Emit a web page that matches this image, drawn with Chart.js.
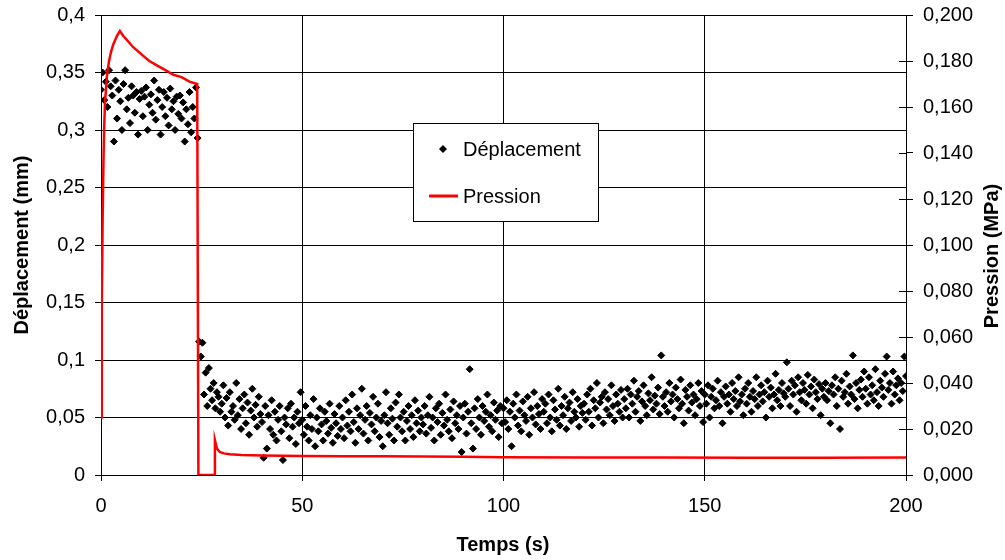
<!DOCTYPE html>
<html>
<head>
<meta charset="utf-8">
<script src="https://cdn.jsdelivr.net/npm/chart.js@4.4.1/dist/chart.umd.min.js"></script>
<style>
  html, body { margin: 0; padding: 0; background: #fff; }
  #wrap { width: 1005px; height: 560px; }
</style>
</head>
<body>
<div id="wrap"><canvas id="essaiChart" width="1005" height="560"></canvas></div>
<script>
// pas d'acquisition (s) du déplacement
const pasTemps = 0.4;

// Déplacement (mm), un point tous les 0,4 s, lignes de 10 s
const deplacement = [
  0.335,0.35,0.326,0.342,0.32,0.352,0.338,0.33,0.29,0.343,0.31,0.335,0.325,0.3,0.34,0.352,0.318,0.328,0.306,0.338,0.33,0.315,0.333,0.296,0.327,
  0.334,0.312,0.329,0.337,0.3,0.322,0.331,0.315,0.343,0.309,0.326,0.335,0.296,0.32,0.333,0.312,0.328,0.304,0.336,0.318,0.325,0.3,0.329,0.314,0.33,
  0.31,0.324,0.29,0.318,0.305,0.333,0.298,0.32,0.31,0.337,0.293,0.116,0.103,0.115,0.07,0.089,0.06,0.093,0.075,0.065,0.08,0.058,0.072,0.068,0.055,
  0.062,0.078,0.05,0.067,0.043,0.072,0.055,0.06,0.048,0.08,0.052,0.066,0.04,0.058,0.07,0.045,0.063,0.035,0.056,0.075,0.05,0.061,0.042,0.068,0.053,
  0.046,0.015,0.06,0.023,0.052,0.04,0.065,0.035,0.055,0.03,0.048,0.06,0.038,0.013,0.05,0.044,0.058,0.032,0.062,0.042,0.05,0.027,0.055,0.045,0.072,
  0.048,0.035,0.06,0.042,0.03,0.052,0.04,0.066,0.025,0.05,0.038,0.058,0.044,0.03,0.055,0.047,0.036,0.062,0.041,0.028,0.053,0.045,0.034,0.06,0.04,
  0.05,0.032,0.065,0.043,0.055,0.038,0.07,0.046,0.028,0.058,0.04,0.052,0.075,0.036,0.048,0.06,0.03,0.054,0.044,0.068,0.038,0.05,0.062,0.033,0.047,
  0.025,0.052,0.072,0.045,0.035,0.058,0.049,0.03,0.063,0.042,0.07,0.05,0.038,0.055,0.03,0.047,0.06,0.04,0.052,0.033,0.065,0.045,0.056,0.038,0.05,
  0.044,0.06,0.036,0.052,0.068,0.041,0.05,0.03,0.058,0.046,0.062,0.035,0.054,0.043,0.07,0.048,0.038,0.057,0.032,0.064,0.045,0.052,0.04,0.06,0.02,
  0.05,0.062,0.036,0.055,0.092,0.045,0.023,0.058,0.04,0.066,0.05,0.035,0.06,0.047,0.055,0.07,0.042,0.052,0.038,0.063,0.048,0.056,0.033,0.06,0.045,
  0.058,0.046,0.065,0.04,0.055,0.025,0.062,0.05,0.07,0.043,0.056,0.038,0.064,0.052,0.047,0.068,0.035,0.058,0.05,0.072,0.044,0.06,0.053,0.04,0.066,
  0.055,0.062,0.045,0.07,0.05,0.038,0.065,0.057,0.048,0.075,0.043,0.06,0.052,0.068,0.04,0.058,0.063,0.047,0.072,0.055,0.05,0.066,0.042,0.06,0.054,
  0.062,0.048,0.07,0.055,0.075,0.043,0.065,0.058,0.08,0.05,0.063,0.068,0.045,0.072,0.057,0.066,0.052,0.078,0.06,0.047,0.07,0.062,0.055,0.074,0.05,
  0.066,0.058,0.075,0.05,0.07,0.062,0.082,0.055,0.068,0.073,0.047,0.064,0.078,0.06,0.052,0.071,0.065,0.085,0.057,0.069,0.062,0.076,0.053,0.104,0.068,
  0.06,0.072,0.055,0.08,0.064,0.07,0.05,0.076,0.066,0.058,0.083,0.062,0.045,0.074,0.068,0.056,0.078,0.063,0.07,0.052,0.066,0.08,0.06,0.073,0.046,
  0.07,0.062,0.078,0.05,0.068,0.075,0.058,0.065,0.082,0.06,0.072,0.045,0.068,0.077,0.062,0.07,0.055,0.08,0.066,0.073,0.06,0.085,0.064,0.07,0.052,
  0.075,0.062,0.08,0.068,0.055,0.073,0.066,0.085,0.06,0.07,0.078,0.064,0.072,0.05,0.082,0.068,0.076,0.058,0.07,0.088,0.065,0.074,0.06,0.08,0.071,
  0.068,0.098,0.075,0.06,0.082,0.07,0.078,0.055,0.085,0.072,0.065,0.08,0.074,0.062,0.087,0.07,0.077,0.058,0.083,0.072,0.066,0.079,0.052,0.075,0.068,
  0.08,0.065,0.073,0.045,0.078,0.07,0.085,0.06,0.075,0.04,0.082,0.068,0.072,0.088,0.062,0.077,0.07,0.104,0.066,0.08,0.058,0.074,0.083,0.068,0.09,
  0.075,0.062,0.085,0.07,0.078,0.065,0.092,0.072,0.06,0.082,0.076,0.068,0.088,0.103,0.074,0.08,0.062,0.09,0.07,0.078,0.084,0.065,0.08,0.073,0.103,
  0.086
];

// Pression (MPa)
const pressionTemps = [0, 0.2, 0.4, 0.6, 0.8, 1.0, 1.5, 2, 2.5, 3, 3.5, 4, 4.7, 5.5, 6.5, 8, 10, 12, 14, 16, 18, 20, 22, 23.9, 24.2, 28.2, 28.3, 28.8, 29.5, 30.5, 32, 35, 40, 50, 60, 70, 80, 90, 100, 120, 140, 160, 180, 200];
const pressionValeurs = [0.025, 0.075, 0.11, 0.135, 0.152, 0.162, 0.174, 0.18, 0.184, 0.187, 0.189, 0.191, 0.193, 0.191, 0.189, 0.186, 0.183, 0.18, 0.178, 0.176, 0.174, 0.173, 0.171, 0.170, 0, 0, 0.0152, 0.0115, 0.0100, 0.0094, 0.0090, 0.0087, 0.0085, 0.0083, 0.0082, 0.0081, 0.0080, 0.0079, 0.0077, 0.0076, 0.0076, 0.0075, 0.0075, 0.0076];

const police = 'Arial, "Liberation Sans", sans-serif';

const pointsDeplacement = deplacement.map((v, i) => ({ x: i * pasTemps, y: v }));
const pointsPression = pressionTemps.map((t, i) => ({ x: t, y: pressionValeurs[i] }));

// titres d'axes + légende dans le graphe
const habillage = {
  id: 'habillage',
  afterDraw(chart) {
    const ctx = chart.ctx;
    const a = chart.chartArea;
    ctx.save();
    ctx.fillStyle = '#000';
    ctx.font = 'bold 20px ' + police;
    ctx.textAlign = 'center';
    ctx.textBaseline = 'middle';
    ctx.fillText('Temps (s)', 503, 545);

    ctx.save();
    ctx.translate(22, 245);
    ctx.rotate(-Math.PI / 2);
    ctx.fillText('Déplacement (mm)', 0, 0);
    ctx.restore();

    ctx.save();
    ctx.translate(992, 256);
    ctx.rotate(-Math.PI / 2);
    ctx.fillText('Pression (MPa)', 0, 0);
    ctx.restore();

    // petits traits intérieurs de l'axe droit
    const y2 = chart.scales.y2;
    ctx.strokeStyle = '#000';
    ctx.lineWidth = 1;
    y2.ticks.forEach(t => {
      const py = Math.round(y2.getPixelForValue(t.value)) + 0.5;
      ctx.beginPath();
      ctx.moveTo(a.right - 7, py);
      ctx.lineTo(a.right, py);
      ctx.stroke();
    });

    // légende
    ctx.fillStyle = '#fff';
    ctx.fillRect(413, 123, 186, 99);
    ctx.strokeStyle = '#000';
    ctx.strokeRect(413.5, 123.5, 185, 98);
    ctx.fillStyle = '#000';
    ctx.beginPath();
    ctx.moveTo(443, 145); ctx.lineTo(447, 149); ctx.lineTo(443, 153); ctx.lineTo(439, 149);
    ctx.closePath();
    ctx.fill();
    ctx.strokeStyle = '#ff0000';
    ctx.lineWidth = 3;
    ctx.beginPath();
    ctx.moveTo(429, 196); ctx.lineTo(458, 196);
    ctx.stroke();
    ctx.fillStyle = '#000';
    ctx.font = '20px ' + police;
    ctx.textAlign = 'left';
    ctx.fillText('Déplacement', 463, 150);
    ctx.fillText('Pression', 463, 197);
    ctx.restore();
  }
};

const sansMargeVerticale = s => { s.paddingTop = 0; s.paddingBottom = 0; };

new Chart(document.getElementById('essaiChart'), {
  type: 'scatter',
  data: {
    datasets: [{
      label: 'Déplacement',
      data: pointsDeplacement,
      yAxisID: 'y',
      pointStyle: 'rectRot',
      pointRadius: 3.5,
      pointBackgroundColor: '#000',
      pointBorderColor: '#000',
      pointBorderWidth: 1,
      showLine: false,
      order: 2
    }, {
      label: 'Pression',
      data: pointsPression,
      yAxisID: 'y2',
      showLine: true,
      borderColor: '#ff0000',
      borderWidth: 2.5,
      pointRadius: 0,
      tension: 0,
      order: 1
    }]
  },
  options: {
    responsive: false,
    animation: false,
    layout: { padding: { top: 15, left: 0, right: 0, bottom: 0 } },
    plugins: {
      legend: { display: false },
      tooltip: { enabled: false }
    },
    scales: {
      x: {
        type: 'linear',
        min: 0,
        max: 200,
        afterFit: s => { s.height = 85; },
        ticks: {
          stepSize: 50,
          padding: 13,
          color: '#000',
          font: { family: police, size: 20 }
        },
        grid: { color: '#000', lineWidth: 1, tickLength: 6 },
        border: { color: '#000' }
      },
      y: {
        position: 'left',
        min: 0,
        max: 0.4,
        afterFit: s => { s.width = 101; sansMargeVerticale(s); },
        ticks: {
          stepSize: 0.05,
          padding: 10,
          color: '#000',
          font: { family: police, size: 20 },
          callback: v => String(Math.round(v * 100) / 100).replace('.', ',')
        },
        grid: { color: '#000', lineWidth: 1, tickLength: 6 },
        border: { color: '#000' }
      },
      y2: {
        position: 'right',
        min: 0,
        max: 0.2,
        afterFit: s => { s.width = 99; sansMargeVerticale(s); },
        ticks: {
          stepSize: 0.02,
          padding: 10,
          color: '#000',
          font: { family: police, size: 20 },
          callback: v => v.toFixed(3).replace('.', ',')
        },
        grid: { drawOnChartArea: false, color: '#000', tickLength: 7 },
        border: { color: '#000' }
      }
    }
  },
  plugins: [habillage]
});
</script>
</body>
</html>
